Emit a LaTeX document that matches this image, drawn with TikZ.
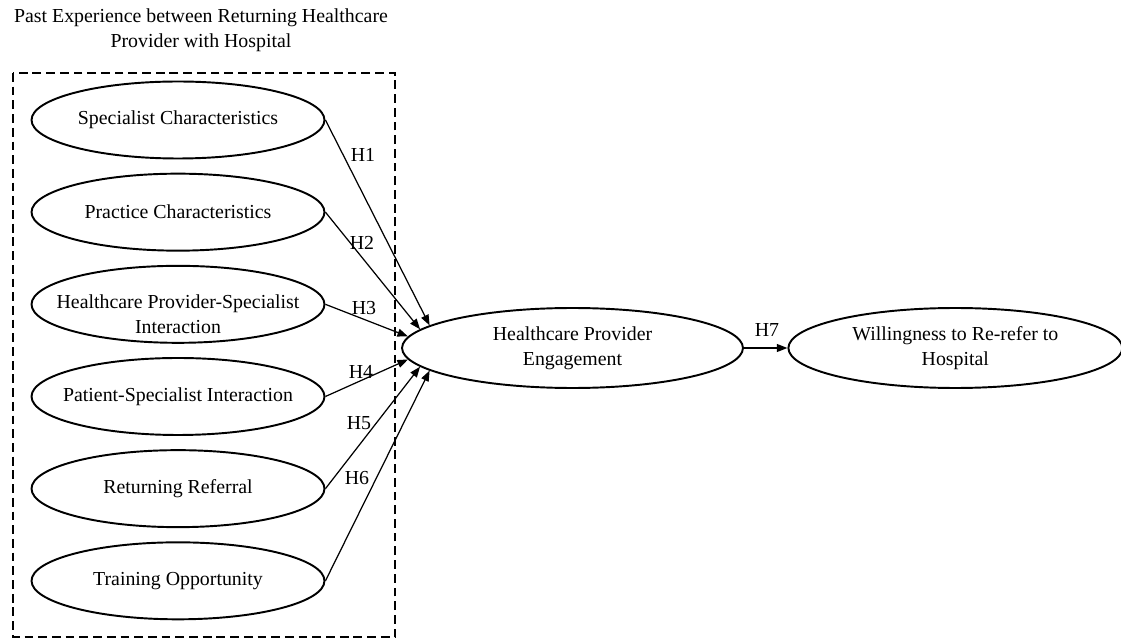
\documentclass[tikz,border=0pt]{standalone}
\usepackage{fontspec}
\setmainfont{Liberation Serif}
\usepackage{tikz}
\usetikzlibrary{positioning,shapes.geometric,arrows.meta}

\tikzset{
  lat/.style={draw,ellipse,line width=1.1pt,inner xsep=-2cm,inner ysep=-1cm,align=center,
    font=\fontsize{11.3}{14.2}\selectfont},
  hyp/.style={-{Triangle[length=6pt,width=4.5pt]},line width=0.7pt},
  hlab/.style={font=\fontsize{11.3}{14.2}\selectfont,inner sep=0pt}
}

\begin{document}
\begin{tikzpicture}[x=0.02cm,y=-0.02cm]
\useasboundingbox (0,0) rectangle (1121,641);
% heading and the dashed frame
\node[hlab,align=center] (head) at (201,30) {Past Experience between Returning Healthcare\\Provider with Hospital};
\draw[line width=1.3pt,dash pattern=on 5pt off 2.8pt] (13,73) rectangle (395,637);
% nodes
\node[lat,minimum width=5.86cm,minimum height=1.54cm] (sc) at (178,120) {Specialist Characteristics};
\node[lat,minimum width=5.86cm,minimum height=1.54cm] (pc) [below=0.265cm of sc] {Practice Characteristics};
\node[lat,minimum width=5.86cm,minimum height=1.54cm,text height=33pt] (hpsi) [below=0.265cm of pc] {Healthcare Provider-Specialist\\Interaction};
\node[lat,minimum width=5.86cm,minimum height=1.54cm] (psi) [below=0.265cm of hpsi] {Patient-Specialist Interaction};
\node[lat,minimum width=5.86cm,minimum height=1.54cm] (rr) [below=0.265cm of psi] {Returning Referral};
\node[lat,minimum width=5.86cm,minimum height=1.54cm] (to) [below=0.265cm of rr] {Training Opportunity};
\node[lat,minimum width=6.82cm,minimum height=1.6cm] (eng) at (572.5,348) {Healthcare Provider\\Engagement};
\node[lat,minimum width=6.68cm,minimum height=1.6cm] (will) [right=0.87cm of eng] {Willingness to Re-refer to\\Hospital};
% the arrows and labels
\draw[hyp] (sc.east) -- (eng.171);
\draw[hyp] (pc.east) -- (eng.173);
\draw[hyp] (hpsi.east) -- (eng.176);
\draw[hyp] (psi.east) -- (eng.184);
\draw[hyp] (rr.east) -- (eng.187);
\draw[hyp] (to.east) -- (eng.189);
\draw[hyp] (eng.east) -- (will.west);
\node[hlab] (lh1) at (363,155) {H1};
\node[hlab] (lh2) at (362,243) {H2};
\node[hlab] (lh3) at (364,308) {H3};
\node[hlab] (lh4) at (361,372) {H4};
\node[hlab] (lh5) at (359,423) {H5};
\node[hlab] (lh6) at (357,478) {H6};
\node[hlab] (lh7) at (767,330) {H7};
\end{tikzpicture}
\end{document}
